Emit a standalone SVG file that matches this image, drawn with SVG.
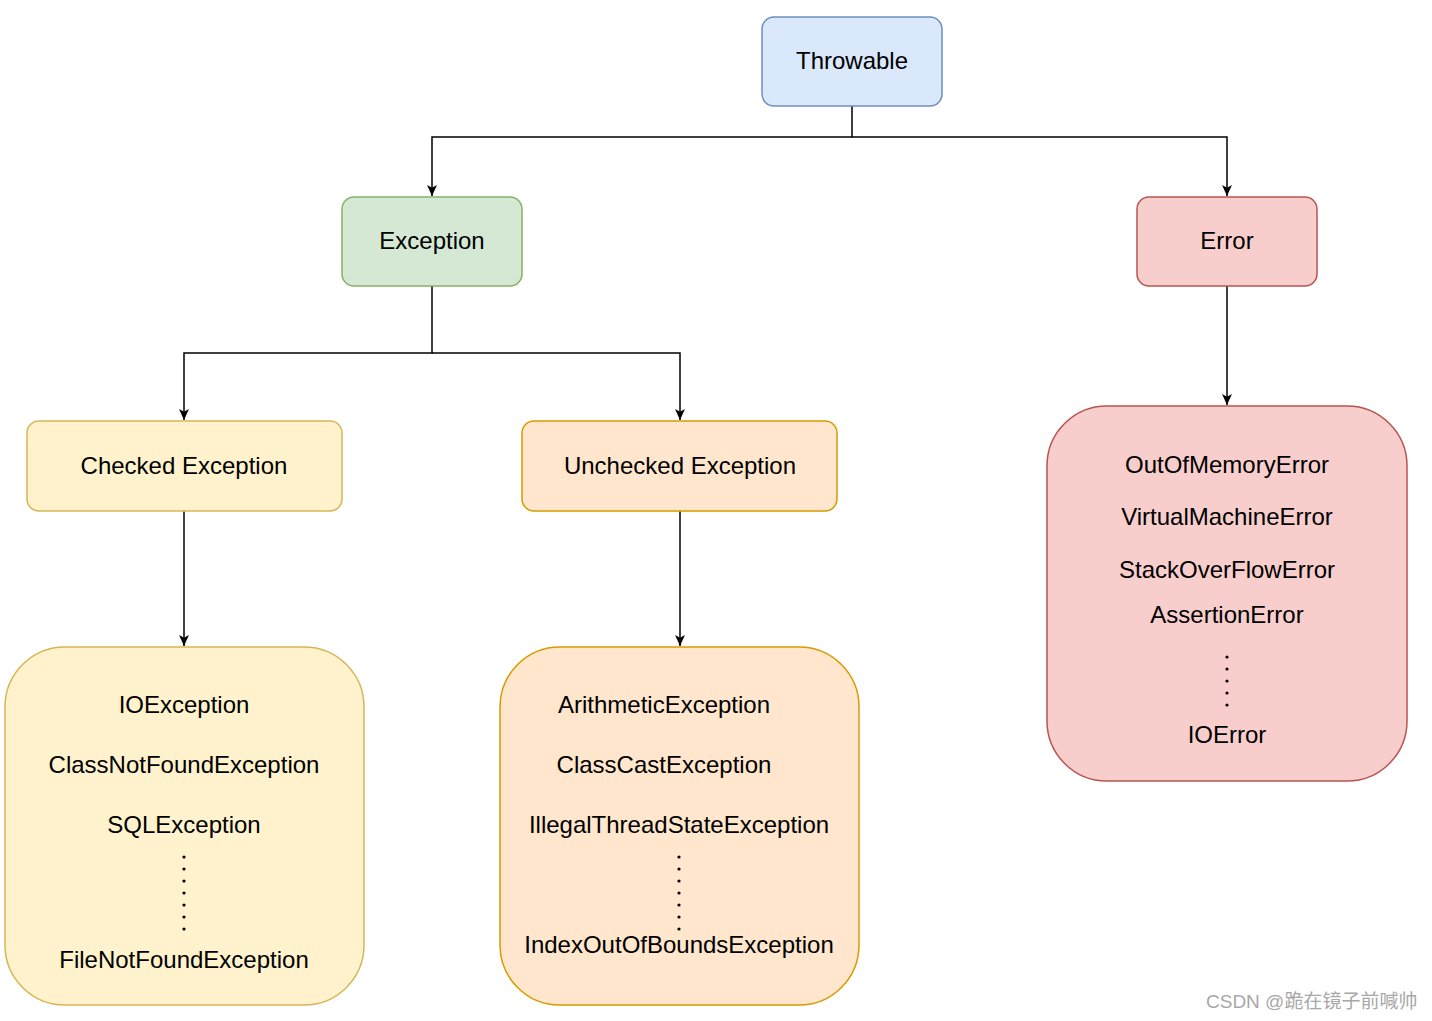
<svg xmlns="http://www.w3.org/2000/svg" width="1432" height="1021" viewBox="0 0 1432 1021">
<style>
text{font-family:"Liberation Sans",Arial,sans-serif;font-size:24px;fill:#000;text-anchor:middle}
.c{fill:none;stroke:#000;stroke-width:1.5}
.dot{fill:#000}
.wm{font-size:19px;fill:#a8a8a8;text-anchor:start;font-family:"Liberation Sans","Noto Sans CJK SC",sans-serif}
</style>
<defs>
<marker id="arr" viewBox="0 0 10 10" refX="10" refY="5" markerWidth="11" markerHeight="11" markerUnits="userSpaceOnUse" orient="auto">
<path d="M0,0.5 L10,5 L0,9.5 L2.5,5 Z" fill="#000"/>
</marker>
</defs>
<rect width="1432" height="1021" fill="#fff"/>
<g id="connectors">
<path class="c" d="M852,106 V137 H432 V196" marker-end="url(#arr)"/>
<path class="c" d="M852,137 H1227 V196" marker-end="url(#arr)"/>
<path class="c" d="M432,286 V353 H184 V420" marker-end="url(#arr)"/>
<path class="c" d="M432,353 H680 V420" marker-end="url(#arr)"/>
<path class="c" d="M184,511 V646" marker-end="url(#arr)"/>
<path class="c" d="M680,511 V646" marker-end="url(#arr)"/>
<path class="c" d="M1227,286 V405" marker-end="url(#arr)"/>
</g>
<g id="throwable">
<rect x="762" y="17" width="180" height="89" rx="12" fill="#dae8fc" stroke="#6c8ebf" stroke-width="1.5"/>
<text x="852" y="69">Throwable</text>
</g>
<g id="exception">
<rect x="342" y="197" width="180" height="89" rx="12" fill="#d5e8d4" stroke="#82b366" stroke-width="1.5"/>
<text x="432" y="249">Exception</text>
</g>
<g id="error">
<rect x="1137" y="197" width="180" height="89" rx="12" fill="#f8cecc" stroke="#b85450" stroke-width="1.5"/>
<text x="1227" y="249">Error</text>
</g>
<g id="checked">
<rect x="27" y="421" width="315" height="90" rx="12" fill="#fff2cc" stroke="#d6b656" stroke-width="1.5"/>
<text x="184" y="474">Checked Exception</text>
</g>
<g id="unchecked">
<rect x="522" y="421" width="315" height="90" rx="12" fill="#ffe6cc" stroke="#d79b00" stroke-width="1.5"/>
<text x="680" y="474">Unchecked Exception</text>
</g>
<g id="checked-list">
<rect x="5" y="647" width="359" height="358" rx="60" fill="#fff2cc" stroke="#d6b656" stroke-width="1.5"/>
<text x="184" y="713">IOException</text>
<text x="184" y="773">ClassNotFoundException</text>
<text x="184" y="833">SQLException</text>
<g class="dot"><circle cx="184" cy="857" r="1.6"/><circle cx="184" cy="869" r="1.6"/><circle cx="184" cy="881" r="1.6"/><circle cx="184" cy="893" r="1.6"/><circle cx="184" cy="905" r="1.6"/><circle cx="184" cy="917" r="1.6"/><circle cx="184" cy="929" r="1.6"/></g>
<text x="184" y="968">FileNotFoundException</text>
</g>
<g id="unchecked-list">
<rect x="500" y="647" width="359" height="358" rx="60" fill="#ffe6cc" stroke="#d79b00" stroke-width="1.5"/>
<text x="664" y="713">ArithmeticException</text>
<text x="664" y="773">ClassCastException</text>
<text x="679" y="833">IllegalThreadStateException</text>
<g class="dot"><circle cx="679" cy="857" r="1.6"/><circle cx="679" cy="869" r="1.6"/><circle cx="679" cy="881" r="1.6"/><circle cx="679" cy="893" r="1.6"/><circle cx="679" cy="905" r="1.6"/><circle cx="679" cy="917" r="1.6"/><circle cx="679" cy="929" r="1.6"/></g>
<text x="679" y="953">IndexOutOfBoundsException</text>
</g>
<g id="error-list">
<rect x="1047" y="406" width="360" height="375" rx="60" fill="#f8cecc" stroke="#b85450" stroke-width="1.5"/>
<text x="1227" y="473">OutOfMemoryError</text>
<text x="1227" y="525">VirtualMachineError</text>
<text x="1227" y="578">StackOverFlowError</text>
<text x="1227" y="623">AssertionError</text>
<g class="dot"><circle cx="1227" cy="657" r="1.6"/><circle cx="1227" cy="669" r="1.6"/><circle cx="1227" cy="681" r="1.6"/><circle cx="1227" cy="693" r="1.6"/><circle cx="1227" cy="705" r="1.6"/></g>
<text x="1227" y="743">IOError</text>
</g>
<text class="wm" x="1206" y="1008">CSDN @跪在镜子前喊帅</text>
</svg>
